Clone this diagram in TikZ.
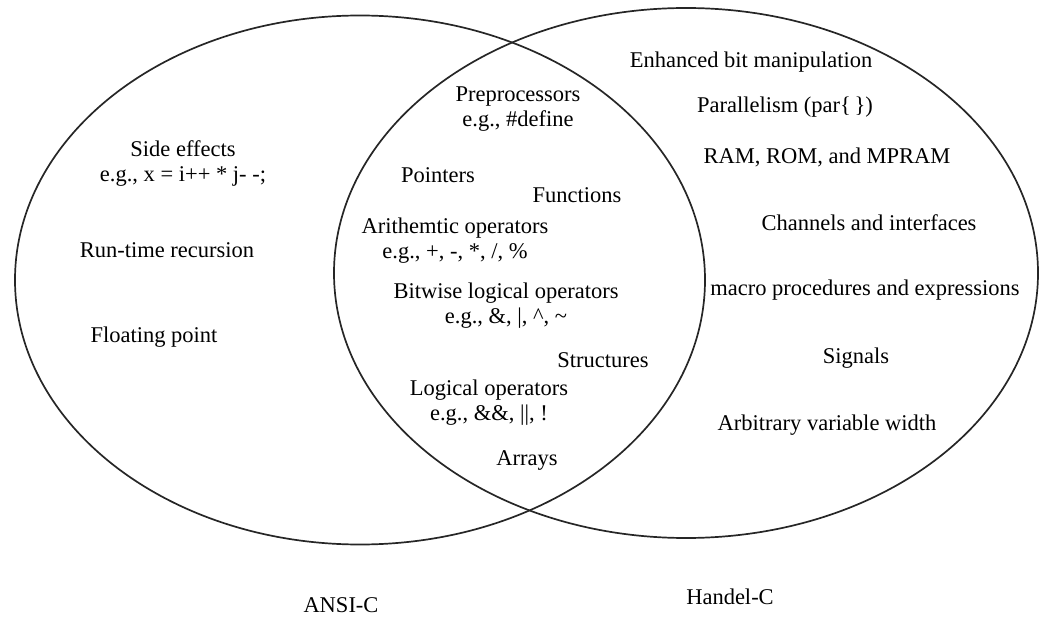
\documentclass[tikz,border=0pt]{standalone}
\usepackage{fontspec}
\setmainfont{Liberation Serif}
\begin{document}
\begin{tikzpicture}[x=1pt,y=-1pt,
  lbl/.style={font=\fontsize{22.5}{27}\selectfont, inner sep=0pt, align=center},
  setline/.style={line width=1.7pt, black!85}]
\useasboundingbox (0,0) rectangle (1039,620);
% the two sets
\draw[setline] (360,280) ellipse [x radius=345pt, y radius=264.5pt];
\draw[setline] (686,273) ellipse [x radius=352pt, y radius=265pt];

% ANSI-C only
\node[lbl] (side) at (183,164) {Side effects\\[-2pt]e.g., x = i++ * j- -;};
\node[lbl] (rec) at (167,250) {Run-time recursion};
\node[lbl] (flt) at (154,337) {Floating point};

% common to both
\node[lbl] (pre) at (518,109) {Preprocessors\\[-2pt]e.g., \#define};
\node[lbl] (ptr) at (438,175) {Pointers};
\node[lbl] (fun) at (577,195) {Functions};
\node[lbl] (ari) at (455,241) {Arithemtic operators\\[-2pt]e.g., +, -, *, /, \%};
\node[lbl] (bit) at (506,306) {Bitwise logical operators\\[-2pt]e.g., \&, |, \textasciicircum, \textasciitilde};
\node[lbl] (str) at (603,360) {Structures};
\node[lbl] (log) at (489,403) {Logical operators\\[-2pt]e.g., \&\&, ||, !};
\node[lbl] (arr) at (527,460) {Arrays};

% Handel-C only
\node[lbl] (ebm) at (751,62) {Enhanced bit manipulation};
\node[lbl] (par) at (785,107) {Parallelism (par\{\,\})};
\node[lbl] (ram) at (827,157) {RAM, ROM, and MPRAM};
\node[lbl] (chn) at (869,223) {Channels and interfaces};
\node[lbl] (mac) at (865,290) {macro procedures and expressions};
\node[lbl] (sig) at (856,358) {Signals};
\node[lbl] (avw) at (827,425) {Arbitrary variable width};

% set names
\node[lbl] (ansi) at (341,605) {ANSI-C};
\node[lbl] (handel) at (730,597) {Handel-C};
\end{tikzpicture}
\end{document}
